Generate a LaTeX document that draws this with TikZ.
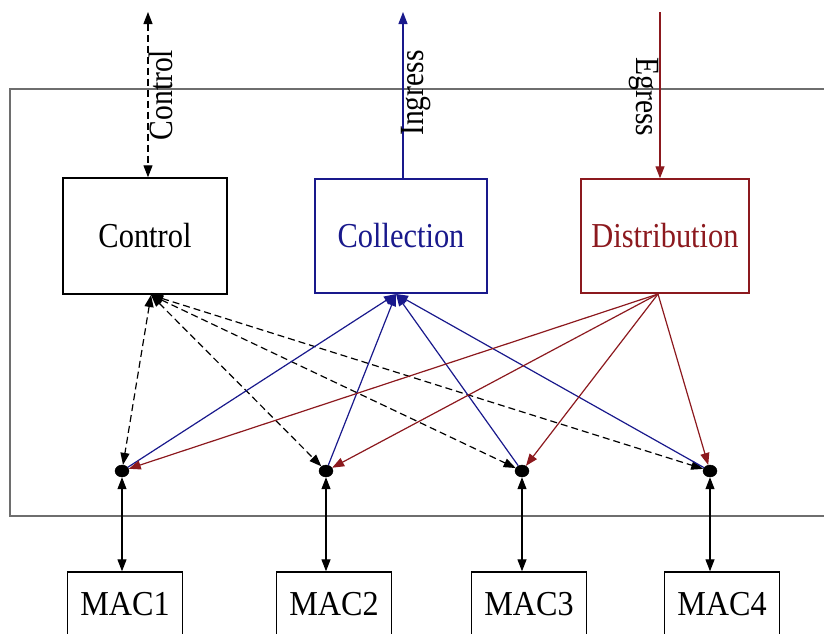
\documentclass[tikz,border=0pt]{standalone}
\usepackage{fontspec}
\setmainfont{Liberation Serif}
\usetikzlibrary{arrows.meta,shapes.geometric}
\definecolor{cblue}{RGB}{25,25,140}
\definecolor{cred}{RGB}{140,25,30}
\definecolor{cframe}{RGB}{110,110,110}
\newcommand{\nx}[1]{\scalebox{0.87}[1]{#1}}
\newcommand{\mx}[1]{\scalebox{0.92}[1]{#1}}
\begin{document}
\begin{tikzpicture}[x=1pt,y=-1pt,
  lbl/.style={font=\fontsize{34}{40}\selectfont, inner sep=0pt},
  box/.style={draw, line width=1.4pt, rectangle, inner sep=0pt, font=\fontsize{35}{40}\selectfont},
  dot/.style={ellipse, fill=black, draw=black, minimum width=14pt, minimum height=12pt, inner sep=0pt},
  tipA/.style={-{Triangle[length=12pt,width=9pt]}},
  tipB/.style={{Triangle[length=12pt,width=9pt]}-{Triangle[length=12pt,width=9pt]}},
  edge/.style={line width=1.2pt},
  dsh/.style={dash pattern=on 7pt off 4pt}
]
\useasboundingbox (0,0) rectangle (824,633);
% frame
\draw[cframe, line width=1.6pt] (830,89) -- (10,89) -- (10,516) -- (830,516);
% main boxes
\node[box, minimum width=164pt, minimum height=116pt] (ctl) at (145,236) {\nx{Control}};
\node[box, draw=cblue, text=cblue, minimum width=172pt, minimum height=114pt] (col) at (401,236) {\nx{Collection}};
\node[box, draw=cred, text=cred, minimum width=168pt, minimum height=114pt] (dis) at (665,236) {\nx{Distribution}};
% dots
\node[dot] (d1) at (122,471) {};
\node[dot] (d2) at (326,471) {};
\node[dot] (d3) at (522,471) {};
\node[dot] (d4) at (710,471) {};
% MAC boxes
\node[box, minimum width=115pt, minimum height=64pt] (m1) at (125,604) {\mx{MAC1}};
\node[box, minimum width=115pt, minimum height=64pt] (m2) at (334,604) {\mx{MAC2}};
\node[box, minimum width=115pt, minimum height=64pt] (m3) at (529,604) {\mx{MAC3}};
\node[box, minimum width=115pt, minimum height=64pt] (m4) at (722,604) {\mx{MAC4}};
% top connectors
\coordinate (ctop) at (148,12);
\coordinate (itop) at (403,12);
\coordinate (etop) at (660,12);
\draw[edge, dsh, tipB] (ctop) -- (ctop |- ctl.north);
\draw[edge, cblue, tipA] (itop |- col.north) -- (itop);
\draw[edge, cred, tipA] (etop) -- (etop |- dis.north);
\node[lbl, rotate=90] (lc) at (161,95) {\nx{Control}};
\node[lbl, rotate=90] (li) at (416,93) {\nx{Ingress}};
\node[lbl, rotate=-90] (le) at (644,97) {\nx{Egress}};
% connection points
\coordinate (cb) at (151,295);
\coordinate (colb) at (396,294);
\coordinate (disb) at (658,294);
% control dashed
\foreach \d in {d1,d2,d3,d4}{
  \draw[edge, dsh, tipB] (cb) -- (\d);
}
% collection blue
\foreach \d in {d1,d2,d3,d4}{
  \draw[edge, cblue, tipA] (\d) -- (colb);
}
% distribution red
\foreach \d in {d1,d2,d3,d4}{
  \draw[edge, cred, tipA] (disb) -- (\d);
}
% dots to MACs
\draw[edge, tipB] (d1) -- (d1 |- m1.north);
\draw[edge, tipB] (d2) -- (d2 |- m2.north);
\draw[edge, tipB] (d3) -- (d3 |- m3.north);
\draw[edge, tipB] (d4) -- (d4 |- m4.north);
\end{tikzpicture}
\end{document}
